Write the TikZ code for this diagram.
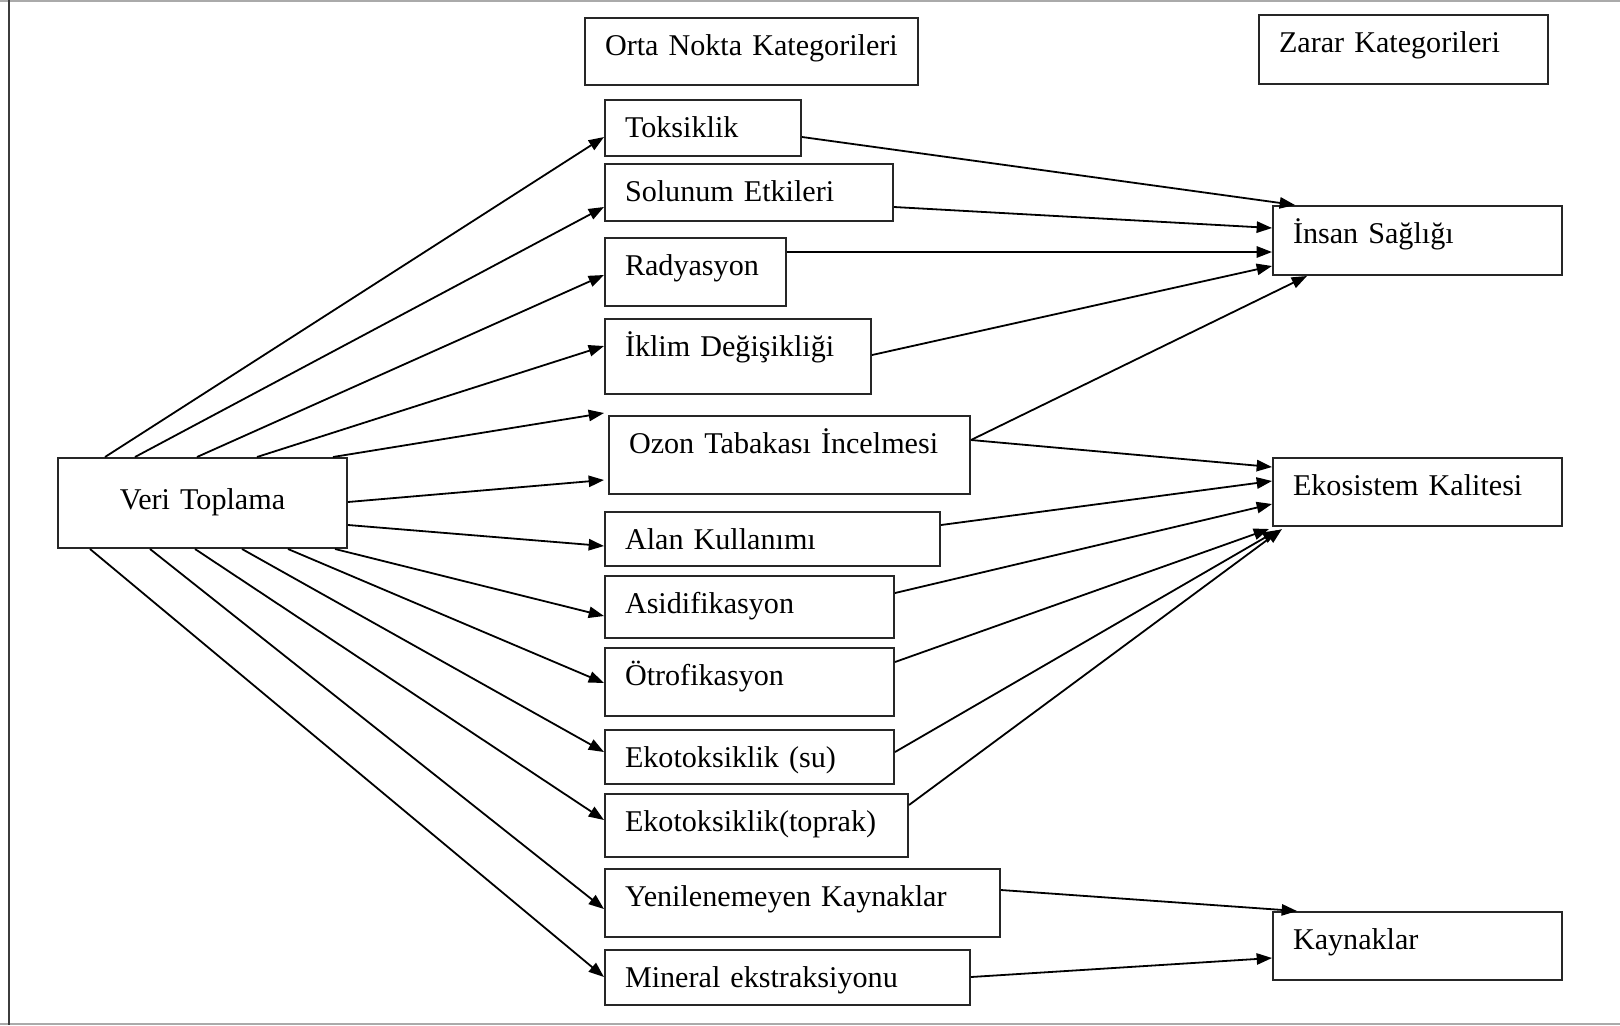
\documentclass[tikz,border=0pt]{standalone}
\usepackage{fontspec}
\setmainfont{Liberation Serif}
\usetikzlibrary{arrows.meta,calc}

\tikzset{every picture/.style={line width=0.75pt}}
\tikzset{
	kutu/.style={draw={rgb, 255:red, 38; green, 38; blue, 38 }, line width=1.5, anchor=north west, inner xsep=15pt, inner ysep=0pt, text height=27.75pt, align=left, font=\fontsize{22.6}{27}\selectfont},
	ok/.style={draw={rgb, 255:red, 0; green, 0; blue, 0 }, line width=1.35, -{Triangle[length=11.5pt,width=8.5pt]}}
}

\begin{document}
\begin{tikzpicture}[x=0.75pt,y=0.75pt,yscale=-1,xscale=1]
	\useasboundingbox (0,0) rectangle (1620,1025); %page frame of the figure

	%Straight Lines [frame top]
	\draw [color={rgb, 255:red, 170; green, 170; blue, 170 }  ,line width=1.5]  (0,1) -- (1620,1) ;
	%Straight Lines [frame bottom]
	\draw [color={rgb, 255:red, 170; green, 170; blue, 170 }  ,line width=1.5]  (0,1023.5) -- (1620,1023.5) ;
	%Straight Lines [frame left]
	\draw [color={rgb, 255:red, 60; green, 60; blue, 60 }  ,line width=1.5]  (9,0) -- (9,1025) ;

	%Shape: Rectangle [headers]
	\node [kutu, text width=219.75pt, text depth=22.5pt] (orta) at (584,17) {Orta Nokta Kategorileri};
	\node [kutu, text width=186.75pt, text depth=24pt] (zarar) at (1258,14) {Zarar Kategorileri};

	%Shape: Rectangle [source]
	\node [kutu, text width=186.75pt, text height=38.25pt, text depth=29.25pt, align=center] (veri) at (57,457) {Veri Toplama};

	%Shape: Rectangle [midpoint categories]
	\node [kutu, text width=117pt, text depth=14.25pt] (toks) at (604,99) {Toksiklik};
	\node [kutu, text width=186pt, text depth=15pt] (solunum) at (604,163) {Solunum Etkileri};
	\node [kutu, text width=105.75pt, text depth=23.25pt] (radyasyon) at (604,237) {Radyasyon};
	\node [kutu, text width=169.5pt, text depth=28.5pt] (iklim) at (604,318) {İklim Değişikliği};
	\node [kutu, text width=240.75pt, text depth=30.75pt] (ozon) at (608,415) {Ozon Tabakası İncelmesi};
	\node [kutu, text width=221.25pt, text depth=12.75pt] (alan) at (604,511) {Alan Kullanımı};
	\node [kutu, text width=186.75pt, text depth=18.75pt] (asid) at (604,575) {Asidifikasyon};
	\node [kutu, text width=186.75pt, text depth=23.25pt] (otro) at (604,647) {Ötrofikasyon};
	\node [kutu, text width=186.75pt, text depth=12.75pt] (ekosu) at (604,729) {Ekotoksiklik (su)};
	\node [kutu, text width=197.25pt, text depth=19.5pt] (ekotop) at (604,793) {Ekotoksiklik(toprak)};
	\node [kutu, text width=266.25pt, text depth=23.25pt] (yenil) at (604,868) {Yenilenemeyen Kaynaklar};
	\node [kutu, text width=243.75pt, text depth=13.5pt] (mineral) at (604,949) {Mineral ekstraksiyonu};

	%Shape: Rectangle [damage categories]
	\node [kutu, text width=186.75pt, text depth=24pt] (insan) at (1272,205) {İnsan Sağlığı};
	\node [kutu, text width=186.75pt, text depth=23.25pt] (ekosistem) at (1272,457) {Ekosistem Kalitesi};
	\node [kutu, text width=186.75pt, text depth=23.25pt] (kaynaklar) at (1272,911) {Kaynaklar};

	%Straight Lines [veri -> midpoints, top edge]
	\draw [ok] ($(veri.north west)+(48,0)$) -- ($(toks.north west)+(0,38)$) ;
	\draw [ok] ($(veri.north west)+(78,0)$) -- ($(solunum.north west)+(0,44)$) ;
	\draw [ok] ($(veri.north west)+(140,0)$) -- ($(radyasyon.north west)+(0,38)$) ;
	\draw [ok] ($(veri.north west)+(200,0)$) -- ($(iklim.north west)+(0,28)$) ;
	\draw [ok] ($(veri.north west)+(276,0)$) -- ($(ozon.north west)+(-4,-2)$) ;
	%Straight Lines [veri -> midpoints, right edge]
	\draw [ok] ($(veri.north east)+(0,45)$) -- ($(ozon.north west)+(-4,65)$) ;
	\draw [ok] ($(veri.north east)+(0,68)$) -- ($(alan.north west)+(0,35)$) ;
	%Straight Lines [veri -> midpoints, bottom edge]
	\draw [ok] ($(veri.south east)+(-13,0)$) -- ($(asid.north west)+(0,41)$) ;
	\draw [ok] ($(veri.south west)+(231,0)$) -- ($(otro.north west)+(0,36)$) ;
	\draw [ok] ($(veri.south west)+(185,0)$) -- ($(ekosu.north west)+(0,23)$) ;
	\draw [ok] ($(veri.south west)+(138,0)$) -- ($(ekotop.north west)+(0,27)$) ;
	\draw [ok] ($(veri.south west)+(93,0)$) -- ($(yenil.north west)+(0,41)$) ;
	\draw [ok] ($(veri.south west)+(33,0)$) -- ($(mineral.north west)+(0,28)$) ;

	%Straight Lines [midpoints -> insan]
	\draw [ok] ($(toks.north east)+(0,38)$) -- ($(insan.north west)+(23,0)$) ;
	\draw [ok] ($(solunum.north east)+(0,44)$) -- ($(insan.north west)+(0,23)$) ;
	\draw [ok] ($(radyasyon.north east)+(0,15)$) -- ($(insan.north west)+(0,47)$) ;
	\draw [ok] ($(iklim.north east)+(0,37)$) -- ($(insan.north west)+(0,61)$) ;
	\draw [ok] ($(ozon.north east)+(0,25)$) -- ($(insan.south west)+(35,0)$) ;
	%Straight Lines [midpoints -> ekosistem]
	\draw [ok] ($(ozon.north east)+(0,25)$) -- ($(ekosistem.north west)+(0,10)$) ;
	\draw [ok] ($(alan.north east)+(0,14)$) -- ($(ekosistem.north west)+(0,24)$) ;
	\draw [ok] ($(asid.north east)+(0,18)$) -- ($(ekosistem.north west)+(0,47)$) ;
	\draw [ok] ($(otro.north east)+(0,15)$) -- ($(ekosistem.south west)+(-3,2)$) ;
	\draw [ok] ($(ekosu.north east)+(0,23)$) -- ($(ekosistem.south west)+(6,3)$) ;
	\draw [ok] ($(ekotop.north east)+(0,12)$) -- ($(ekosistem.south west)+(10,2)$) ;
	%Straight Lines [midpoints -> kaynaklar]
	\draw [ok] ($(yenil.north east)+(0,22)$) -- ($(kaynaklar.north west)+(25,0)$) ;
	\draw [ok] ($(mineral.north east)+(0,28)$) -- ($(kaynaklar.north west)+(0,47)$) ;

\end{tikzpicture}
\end{document}
